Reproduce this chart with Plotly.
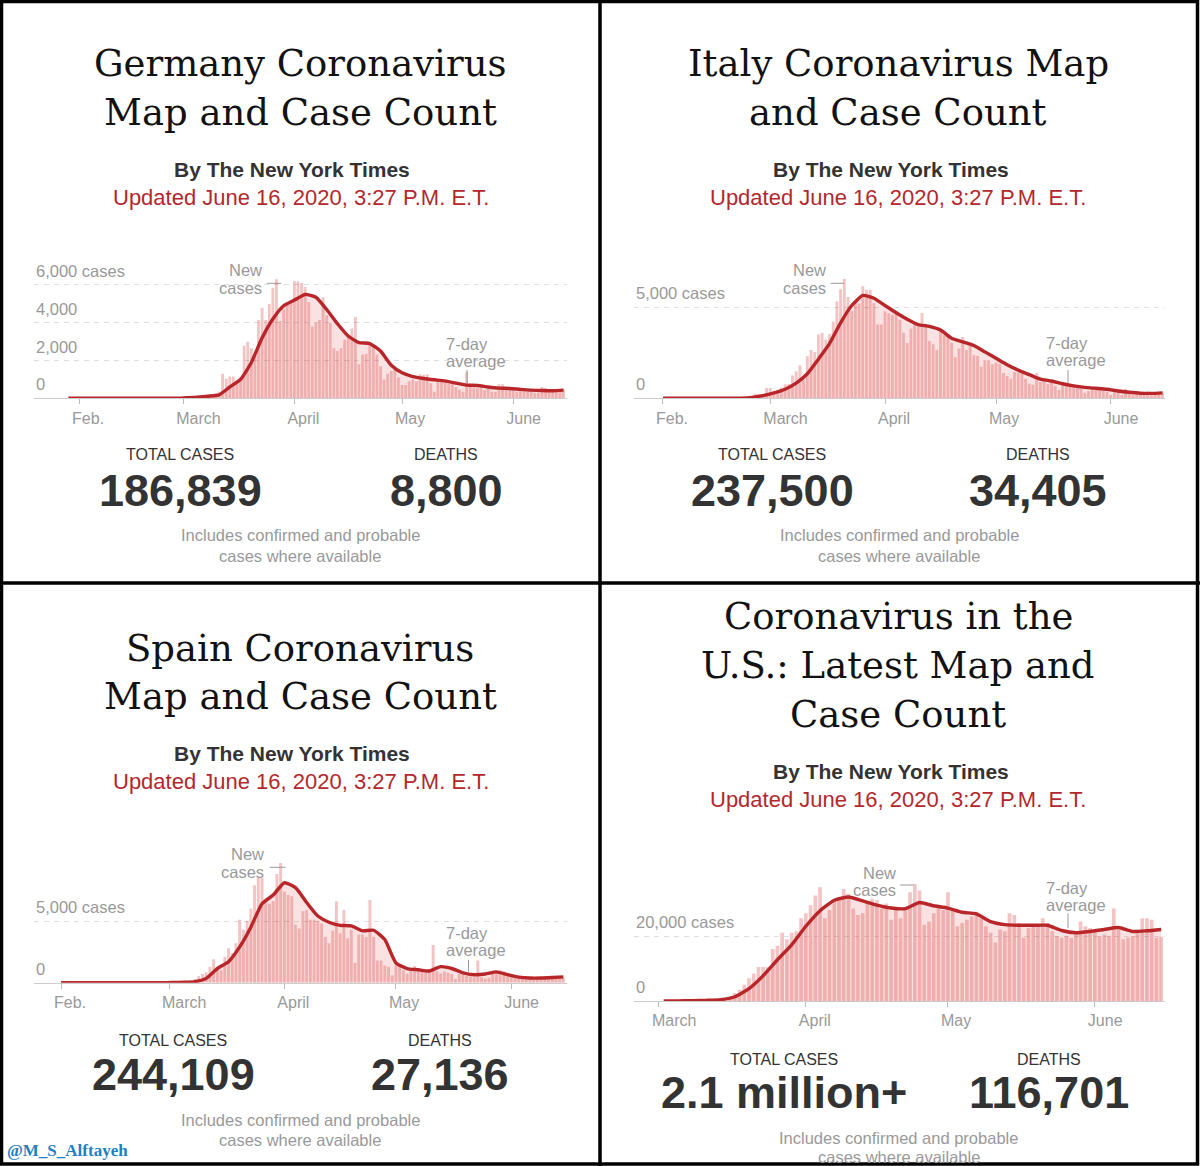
import pandas as pd
import plotly.graph_objects as go

W, H = 1200, 1166

# ---------------- data ----------------
# daily new cases (bars) and 7-day average (line, every 3rd day)

germany_mar = [20, 30, 40, 60, 120, 150, 150, 200, 180, 250,
               350, 1300, 1050, 1150, 1150, 1000, 1100, 2800, 3000, 2650,
               2300, 4150, 4800, 4150, 5000, 5850, 6300, 4100, 4700, 4950, 5050]
germany_apr = [6200, 6200, 6100, 5900, 5100, 3800, 4000, 4150, 5350, 4400,
               4000, 2650, 2500, 2650, 3100, 3350, 3700, 4300, 1800, 2300,
               2350, 2850, 2700, 2300, 1700, 1000, 1300, 1450, 1500, 1100]
germany_may = [700, 700, 900, 1000, 900, 1270, 1250, 1270, 800, 350,
               1000, 900, 900, 800, 750, 600, 450, 350, 1400, 620,
               570, 530, 530, 450, 570, 350, 350, 750, 750, 450, 500]
germany_jun = [400, 350, 450, 530, 350, 400, 300, 300, 600, 550, 450, 450, 400, 400, 450]
germany_avg = [0] * 11 + [30, 60, 110, 180, 600, 1000, 1900, 3200, 4200, 4900,
                          5200, 5500, 5350, 4700, 3950, 3300, 2950, 2900, 2500, 1750,
                          1350, 1150, 1050, 980, 920, 800, 700, 680, 600, 540, 520,
                          470, 430, 410, 400, 430]

italy_feb = [20, 60, 80, 90, 80, 250, 240, 240, 570]
italy_mar = [570, 340, 470, 590, 770, 780, 1250, 1490, 1800, 980,
             2310, 2650, 2550, 3500, 3590, 3230, 3530, 4210, 5320, 5990,
             6560, 5560, 4790, 5250, 5210, 6150, 5960, 5970, 5220, 4050, 4050]
italy_apr = [4780, 4670, 4590, 4810, 4320, 3600, 3040, 3840, 4200, 3950,
             4690, 4090, 3150, 2970, 2670, 3790, 3490, 3490, 3050, 2260,
             2730, 3370, 2650, 3020, 2360, 2320, 1740, 2090, 2090, 1870]
italy_may = [1970, 1900, 1390, 1220, 1080, 1440, 1400, 1330, 1080, 800,
             740, 1400, 890, 990, 790, 880, 680, 450, 810, 670,
             640, 650, 670, 530, 300, 400, 580, 590, 520, 420, 360]
italy_jun = [180, 320, 320, 180, 520, 270, 200, 280, 280, 200, 380, 160, 350, 340, 300]
italy_avg = [0] * 7 + [10, 50, 150,
                       300, 500, 830, 1350, 2150, 3000, 4150, 5100, 5650, 5500,
                       5100, 4700, 4350, 4050, 3950, 3750, 3300, 3100, 2900, 2550,
                       2200, 1850, 1550, 1300, 1050, 950, 800, 680, 600, 550, 500,
                       400, 330, 280, 270, 300]

spain_mar = [20, 30, 40, 60, 60, 100, 120, 300, 550, 700,
             850, 1300, 1900, 1300, 1000, 2100, 2800, 2400, 3200, 5100,
             4300, 5000, 6000, 7900, 8500, 8500, 6600, 6400, 6600, 8800, 9700]
spain_apr = [7400, 7100, 7000, 4700, 4400, 5800, 5900, 5100, 5100, 5000,
             4800, 3700, 3200, 4200, 6600, 4000, 5900, 3600, 4300, 1600,
             3900, 3900, 3700, 6700, 3700, 1800, 1800, 1400, 1300, 600]
spain_may = [1400, 1400, 1000, 750, 1150, 1350, 1150, 900, 1000, 900,
             3050, 900, 750, 900, 800, 700, 300, 700, 650, 550,
             500, 450, 1800, 450, 350, 400, 700, 900, 1000, 900, 600]
spain_jun = [450, 400, 350, 300, 300, 350, 300, 350, 300, 350, 400, 350, 350, 400, 400]
spain_avg = [0] * 10 + [20, 40, 90, 350, 1150, 1700, 2900, 4500, 6400, 7100,
                        8100, 7700, 6500, 5400, 4900, 4650, 4600, 4200, 4250, 3500,
                        1600, 1150, 1050, 950, 1300, 1150, 800, 650, 700, 880, 650,
                        450, 380, 380, 420, 470]

us_mar = [10, 20, 30, 40, 60, 80, 100, 130, 170, 250,
          300, 420, 550, 700, 800, 1200, 2500, 3500, 5000, 7000,
          8500, 10500, 10500, 10500, 16000, 17000, 21000, 19000, 21000, 21500, 25500]
us_apr = [27000, 29500, 32500, 35000, 25500, 28000, 31000, 32000, 34500, 33000,
          28500, 26500, 27000, 30000, 31500, 31000, 28500, 30000, 25000, 29000,
          25500, 29000, 33500, 36000, 34000, 23500, 24500, 27000, 29500, 28000]
us_may = [33500, 28000, 23000, 24000, 25000, 26000, 27500, 25500, 23000, 21000,
          18000, 22000, 21500, 27000, 26500, 24000, 19500, 22500, 23000, 23500,
          25500, 24000, 21500, 20000, 19500, 20000, 19500, 21500, 24500, 23000, 22500]
us_jun = [21500, 20000, 20500, 20000, 28500, 22000, 19000, 19500, 20000, 22000,
          25500, 25500, 25000, 19500, 19800]
us_avg = [20, 50, 100, 200, 420, 1300, 3800, 7800, 12700, 17300,
          23000, 27800, 31000, 32000, 30800, 29500, 28600, 28400, 30300, 29300,
          28600, 27300, 26800, 24400, 23500, 23300, 23300, 23300, 21700, 21000, 21400,
          22000, 22600, 21400, 21600, 22000]

month_ticks = ['2020-02-01', '2020-03-01', '2020-04-01', '2020-05-01', '2020-06-01']
month_text = ['Feb.', 'March', 'April', 'May', 'June']

titles = [['Germany Coronavirus', 'Map and Case Count'],
          ['Italy Coronavirus Map', 'and Case Count'],
          ['Spain Coronavirus', 'Map and Case Count'],
          ['Coronavirus in the', 'U.S.: Latest Map and', 'Case Count']]
total_cases = ['186,839', '237,500', '244,109', '2.1 million+']
total_deaths = ['8,800', '34,405', '27,136', '116,701']

SERIF = 'DejaVu Serif'
SANS = 'Liberation Sans'
RED = '#b3282d'
LINE = '#b8262a'
GRAY = '#999999'
DARK = '#333333'


def px(x):
    return x / W


def py(y):
    return 1 - y / H


# layout of each panel, in pixels of the 1200x1166 page
panels = [
    dict(new=germany_mar + germany_apr + germany_may + germany_jun, new_start='2020-03-01',
         avg=germany_avg, avg_start='2020-01-29',
         left=33.5, right=566.8, base=398.3, ref_val=6000, ref_px=285.0, ymax=7000,
         xrange=['2020-01-19 07:00', '2020-06-15 22:00'],
         grid_vals=[6000, 4000, 2000, 0], grid_text=['6,000 cases', '4,000', '2,000', '0'],
         ticks=month_ticks, ticktext=month_text,
         title_x=300, title_y=[64, 112], by=(292, 169), upd=(300.5, 197),
         new_lbl=(264, 270, 288.3), new_dash=(267, 281, 283.3),
         avg_lbl=(444, 344, 361), avg_tick=(467.1, 370, 383.3),
         tot=(180, 455, 490), dea=(446, 455, 490), inc=(300, 535, 556)),
    dict(new=italy_feb + italy_mar + italy_apr + italy_may + italy_jun, new_start='2020-02-21',
         avg=italy_avg, avg_start='2020-02-01',
         left=633.7, right=1165.3, base=398.3, ref_val=5000, ref_px=307.3, ymax=7000,
         xrange=['2020-01-24 02:00', '2020-06-15 18:00'],
         grid_vals=[5000, 0], grid_text=['5,000 cases', '0'],
         ticks=month_ticks, ticktext=month_text,
         title_x=898, title_y=[64, 112], by=(891, 169), upd=(898, 197),
         new_lbl=(828, 270, 288.3), new_dash=(830.7, 843.9, 283.3),
         avg_lbl=(1043.7, 343.3, 360), avg_tick=(1068, 370, 383),
         tot=(772, 455, 490), dea=(1038, 455, 490), inc=(899, 535, 556)),
    dict(new=spain_mar + spain_apr + spain_may + spain_jun, new_start='2020-03-01',
         avg=spain_avg, avg_start='2020-02-01',
         left=33.5, right=566.8, base=982.7, ref_val=5000, ref_px=921.0, ymax=10500,
         xrange=['2020-01-24 14:00', '2020-06-15 22:00'],
         grid_vals=[5000, 0], grid_text=['5,000 cases', '0'],
         ticks=month_ticks, ticktext=month_text,
         title_x=300, title_y=[648, 696], by=(292, 753.5), upd=(300.5, 781.5),
         new_lbl=(266.3, 854, 872.3), new_dash=(269.7, 285.4, 867.3),
         avg_lbl=(443.5, 933.3, 950), avg_tick=(468.5, 960, 971.7),
         tot=(173, 1040, 1074), dea=(440, 1040, 1074), inc=(300, 1120, 1140)),
    dict(new=us_mar + us_apr + us_may + us_jun, new_start='2020-03-01',
         avg=us_avg, avg_start='2020-03-02',
         left=633.7, right=1165.3, base=1001.0, ref_val=20000, ref_px=936.0, ymax=40000,
         xrange=['2020-02-24 16:00', '2020-06-15 21:00'],
         grid_vals=[20000, 0], grid_text=['20,000 cases', '0'],
         ticks=month_ticks[1:], ticktext=month_text[1:],
         title_x=898, title_y=[616, 665, 714], by=(891, 771), upd=(898, 799),
         new_lbl=(898, 872.7, 890), new_dash=(900.2, 913.4, 885),
         avg_lbl=(1043.7, 888.3, 905), avg_tick=(1068, 913.3, 928.3),
         tot=(783.6, 1059, 1092), dea=(1048.6, 1059, 1092), inc=(898.6, 1138, 1157)),
]

fig = go.Figure()
annotations = []
shapes = []
layout_axes = {}


def text(x, y, s, size, color, family=SANS, weight='normal', xanchor='center', **kw):
    annotations.append(dict(x=px(x), y=py(y), xref='paper', yref='paper', text=s,
                            showarrow=False, xanchor=xanchor, yanchor='middle',
                            font=dict(size=size, color=color, family=family, weight=weight), **kw))


def seg(x0, y0, x1, y1, color=GRAY, width=1):
    shapes.append(dict(type='line', xref='paper', yref='paper', x0=px(x0), y0=py(y0),
                       x1=px(x1), y1=py(y1), line=dict(color=color, width=width)))


for i, p in enumerate(panels):
    n = '' if i == 0 else str(i + 1)
    xa, ya = 'x' + n, 'y' + n
    top_px = p['base'] - p['ymax'] / p['ref_val'] * (p['base'] - p['ref_px'])

    new_dates = pd.date_range(p['new_start'], periods=len(p['new']), freq='D')
    avg_dates = pd.date_range(p['avg_start'], periods=len(p['avg']), freq='3D')

    fig.add_trace(go.Bar(x=new_dates, y=p['new'], xaxis=xa, yaxis=ya,
                         marker=dict(color='rgba(220,60,60,0.31)', line=dict(width=0)),
                         hoverinfo='skip'))
    fig.add_trace(go.Scatter(x=avg_dates, y=p['avg'], xaxis=xa, yaxis=ya, mode='lines',
                             line=dict(color=LINE, width=3.4, shape='spline', smoothing=0.5),
                             fill='tozeroy', fillcolor='rgba(220,60,60,0.15)',
                             hoverinfo='skip'))

    layout_axes['xaxis' + n] = dict(
        domain=[px(p['left']), px(p['right'])], range=p['xrange'], type='date',
        anchor=ya, showgrid=False, zeroline=False,
        showline=True, linecolor='#cccccc', linewidth=1,
        ticks='outside', ticklen=5, tickwidth=1, tickcolor='#bbbbbb',
        tickvals=p['ticks'], ticktext=p['ticktext'],
        ticklabelposition='outside right', ticklabelshift=-8, ticklabelstandoff=5,
        tickfont=dict(size=16, color=GRAY, family=SANS), fixedrange=True)
    layout_axes['yaxis' + n] = dict(
        domain=[py(p['base']), py(top_px)], range=[0, p['ymax']], anchor=xa,
        showgrid=True, gridcolor='#dddddd', gridwidth=1, griddash='5px,5px',
        tickvals=[v for v in p['grid_vals'] if v > 0], showticklabels=False,
        zeroline=False, showline=False, ticks='', fixedrange=True)

    # gridline labels sitting above the lines
    for v, t in zip(p['grid_vals'], p['grid_text']):
        annotations.append(dict(x=px(p['left']), y=v, xref='paper', yref=ya, text=t,
                                showarrow=False, xanchor='left', yanchor='bottom', yshift=3,
                                font=dict(size=16.5, color=GRAY, family=SANS)))

    # headline block
    for line, yy in zip(titles[i], p['title_y']):
        text(p['title_x'], yy, line, 37, '#121212', family=SERIF)
    text(p['by'][0], p['by'][1], 'By The New York Times', 21, DARK, weight='bold')
    text(p['upd'][0], p['upd'][1], 'Updated June 16, 2020, 3:27 P.M. E.T.', 22, RED)

    # chart call-outs
    nx, ny1, ny2 = p['new_lbl']
    text(nx, ny1, 'New', 16.5, GRAY, xanchor='right')
    text(nx, ny2, 'cases', 16.5, GRAY, xanchor='right')
    d0, d1, dy = p['new_dash']
    seg(d0, dy, d1, dy)
    ax_, ay1, ay2 = p['avg_lbl']
    text(ax_, ay1, '7-day', 16.5, GRAY, xanchor='left')
    text(ax_, ay2, 'average', 16.5, GRAY, xanchor='left')
    tx, ty0, ty1 = p['avg_tick']
    seg(tx, ty0, tx, ty1)

    # totals
    text(p['tot'][0], p['tot'][1], 'TOTAL CASES', 16, DARK)
    text(p['tot'][0], p['tot'][2], total_cases[i], 45, DARK, weight='bold')
    text(p['dea'][0], p['dea'][1], 'DEATHS', 16, DARK)
    text(p['dea'][0], p['dea'][2], total_deaths[i], 45, DARK, weight='bold')
    text(p['inc'][0], p['inc'][1], 'Includes confirmed and probable', 16.5, GRAY)
    text(p['inc'][0], p['inc'][2], 'cases where available', 16.5, GRAY)

# watermark
text(5, 1150, '@M_S_Alftayeh', 17, '#1f7fc4', family='Liberation Serif',
     weight='bold', xanchor='left')

# panel frame
shapes.append(dict(type='rect', xref='paper', yref='paper', x0=px(1.5), y0=py(1164),
                   x1=px(1197.5), y1=py(1.5), line=dict(color='black', width=3.5)))
seg(600, 0, 600, H, color='black', width=3.5)
seg(0, 583, W, 583, color='black', width=3.5)

fig.update_layout(
    width=W, height=H, margin=dict(l=0, r=0, t=0, b=0),
    paper_bgcolor='white', plot_bgcolor='rgba(0,0,0,0)',
    showlegend=False, bargap=0.22,
    annotations=annotations, shapes=shapes,
    **layout_axes)

# the page's default body margin would push the 1200x1166 figure off the window
fig.write_html('out.html', config={'displayModeBar': False},
               post_script="document.body.style.margin='0';")
